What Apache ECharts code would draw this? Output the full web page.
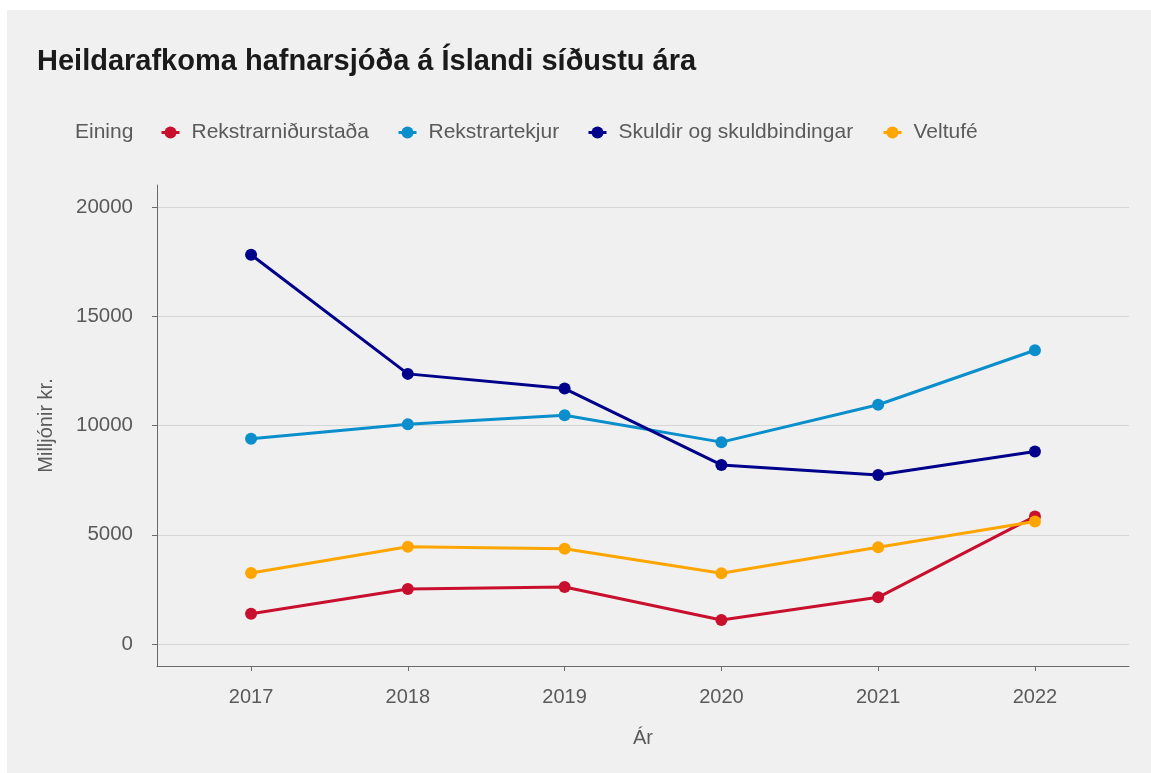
<!DOCTYPE html>
<html>
<head>
<meta charset="utf-8">
<script src="https://cdn.jsdelivr.net/npm/echarts@6/dist/echarts.min.js"></script>
<style>
html,body{margin:0;padding:0;background:#ffffff;}
#chart{width:1151px;height:773px;}
</style>
</head>
<body>
<div id="chart"></div>
<script>
const years = [2017, 2018, 2019, 2020, 2021, 2022];
const rekstrarnidurstada = [1390, 2523, 2615, 1101, 2142, 5840];
const rekstrartekjur = [9393, 10060, 10470, 9239, 10950, 13440];
const skuldir = [17808, 12361, 11689, 8197, 7739, 8807];
const veltufe = [3257, 4450, 4358, 3243, 4435, 5610];
const seriesNames = ['Rekstrarniðurstaða', 'Rekstrartekjur', 'Skuldir og skuldbindingar', 'Veltufé'];
const seriesColors = ['#c8102e', '#0a8fcc', '#00008b', '#ffa500'];
const yTicks = [0, 5000, 10000, 15000, 20000];

const allValues = [rekstrarnidurstada, rekstrartekjur, skuldir, veltufe];
const FONT = '"Liberation Sans", Arial, sans-serif';
const legendLeft = [160, 397, 587, 882];

const chart = echarts.init(document.getElementById('chart'), null, {renderer: 'canvas'});
const option = {
  animation: false,
  backgroundColor: '#ffffff',
  textStyle: {fontFamily: FONT},
  graphic: [
    {type: 'rect', left: 7, top: 10, z: -10, shape: {width: 1151 - 7, height: 773 - 10}, style: {fill: '#f0f0f0'}},
    {type: 'text', left: 37, top: 47, style: {text: 'Heildarafkoma hafnarsjóða á Íslandi síðustu ára', font: 'bold 29px ' + FONT, fill: '#1a1a1a'}},
    {type: 'text', left: 75, top: 122, style: {text: 'Eining', font: '21px ' + FONT, fill: '#5a5a5a'}}
  ],
  legend: seriesNames.map((n, i) => ({
    data: [n],
    left: legendLeft[i],
    top: 122,
    padding: 0,
    itemWidth: 18,
    itemHeight: 15,
    lineStyle: {width: 3},
    textStyle: {fontSize: 21, color: '#5a5a5a', fontFamily: FONT, padding: [0, 0, 0, 7]},
    selectedMode: false
  })),
  grid: {left: 157, right: 22, top: 185, bottom: 107, containLabel: false},
  xAxis: {
    type: 'value',
    min: 2016.4,
    max: 2022.6,
    name: 'Ár',
    nameLocation: 'middle',
    nameGap: 62,
    nameTextStyle: {fontSize: 20, color: '#5a5a5a', fontFamily: FONT},
    axisLine: {show: true, onZero: false, lineStyle: {color: '#6b6b6b', width: 1}},
    axisTick: {show: true, length: 5, customValues: years, lineStyle: {color: '#6b6b6b'}},
    axisLabel: {customValues: years, fontSize: 20, color: '#5a5a5a', margin: 21, formatter: v => String(v)},
    splitLine: {show: false}
  },
  yAxis: {
    type: 'value',
    min: -1000,
    max: 21000,
    name: 'Milljónir kr.',
    nameLocation: 'middle',
    nameGap: 101,
    nameRotate: 90,
    nameTextStyle: {fontSize: 20, color: '#5a5a5a', fontFamily: FONT},
    axisLine: {show: true, onZero: false, lineStyle: {color: '#6b6b6b', width: 1}},
    axisTick: {show: true, length: 5, customValues: yTicks, lineStyle: {color: '#6b6b6b'}},
    axisLabel: {customValues: yTicks, fontSize: 20.5, color: '#5a5a5a', margin: 24, formatter: v => String(v)},
    splitLine: {show: true, lineStyle: {color: '#d6d6d6', width: 1}}
  },
  series: seriesNames.map((n, i) => ({
    name: n,
    type: 'line',
    data: years.map((y, k) => [y, allValues[i][k]]),
    symbol: 'circle',
    symbolSize: 12,
    lineStyle: {width: 3, color: seriesColors[i]},
    itemStyle: {color: seriesColors[i]},
    z: 2 + i
  }))
};
chart.setOption(option);
</script>
</body>
</html>
